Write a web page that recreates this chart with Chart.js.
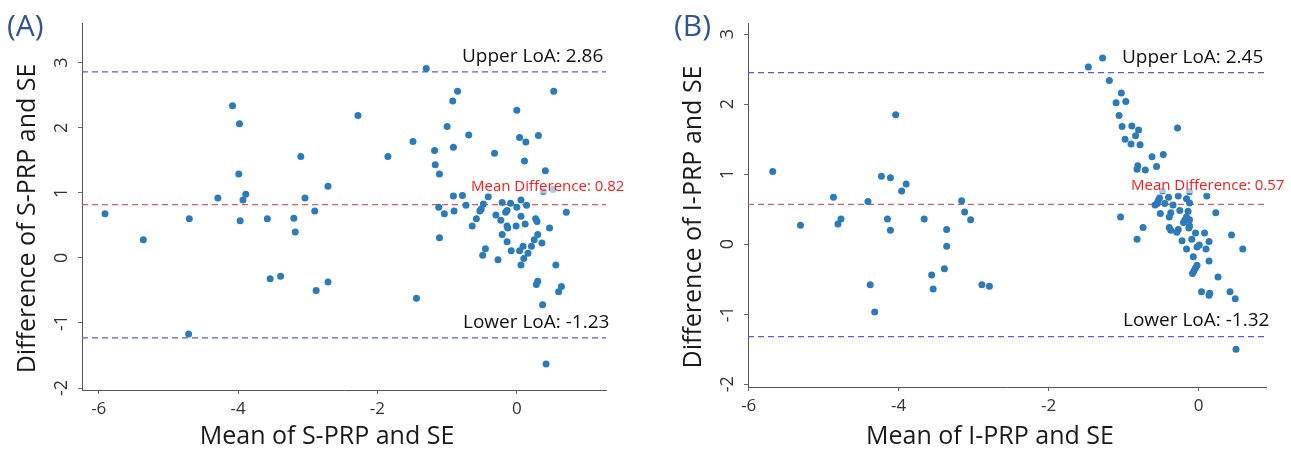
<!DOCTYPE html>
<html>
<head>
<meta charset="utf-8">
<script src="https://cdn.jsdelivr.net/npm/chart.js@4"></script>
<style>
    body { margin: 0; background: #fff; }
    #wrap { position: relative; width: 1291px; height: 456px; overflow: hidden; }
    .panel { position: absolute; top: 0; height: 456px; }
    .tag { position: absolute; font-family: "Open Sans", sans-serif; font-size: 30px; line-height: 30px; color: #2f5597; }
</style>
</head>
<body>
<div id="wrap">
    <div class="panel" style="left:0;width:645px"><canvas id="chartA" width="645" height="456"></canvas></div>
    <div class="panel" style="left:645px;width:646px"><canvas id="chartB" width="646" height="456"></canvas></div>
    <div class="tag" style="left:7px;top:10px">(A)</div>
    <div class="tag" style="left:674px;top:10px">(B)</div>
</div>
<script>
// panel A: S-PRP vs SE
const meanA = [-5.91, -5.36, -4.70, -4.71, -4.29, -4.08, -3.98, -3.99, -3.89, -3.93, -3.97, -3.58, -3.54, -3.39,
    -3.10, -3.04, -3.20, -3.18, -2.90, -2.88, -2.71, -2.71, -2.28, -1.85, -1.49, -1.44, -1.30, -1.18, -1.17, -1.11,
    -1.11, -1.12, -1.04, -1.00, -0.92, -0.85, -0.91, -0.91, -0.90, -0.78, -0.73, -0.69, -0.64, -0.58, -0.53, -0.51,
    -0.48, -0.41, -0.49, -0.45, -0.32, -0.30, -0.27, -0.23, -0.21, -0.21, -0.16, -0.14, -0.14, -0.13, -0.14, -0.09,
    -0.08, -0.01, 0.00, 0.00, 0.04, 0.04, 0.06, 0.06, 0.06, 0.09, 0.10, 0.12, 0.13, 0.11, 0.14, 0.16, 0.21, 0.25,
    0.27, 0.30, 0.29, 0.31, 0.28, 0.30, 0.36, 0.37, 0.41, 0.38, 0.42, 0.47, 0.53, 0.56, 0.60, 0.64, 0.71, 0.52];
const diffA = [0.68, 0.28, 0.60, -1.17, 0.92, 2.34, 2.06, 1.29, 0.98, 0.89, 0.57, 0.60, -0.32, -0.28,
    1.56, 0.92, 0.61, 0.40, 0.72, -0.50, 1.10, -0.37, 2.19, 1.56, 1.79, -0.62, 2.91, 1.65, 1.43, 1.29,
    0.31, 0.78, 0.68, 2.02, 2.41, 2.56, 1.70, 0.95, 0.72, 0.96, 0.81, 1.89, 0.49, 0.60, 0.72, 0.75,
    0.83, 0.94, 0.04, 0.14, 1.61, 0.66, -0.03, 0.58, 0.85, 0.36, 0.70, 0.73, 0.49, 0.46, 0.25, 0.84,
    0.11, 0.49, 2.27, 0.78, 1.85, 0.11, 0.89, 0.64, -0.11, 0.18, -0.01, 0.52, 1.78, 1.49, 0.81, 0.07, 0.18, 0.28,
    0.60, 0.36, 0.56, 1.88, -0.41, -0.36, 0.23, -0.72, 1.34, 1.02, -1.63, 0.46, 2.56, -0.11, -0.52, -0.44, 0.70, 1.05];
const loaA = [2.86, 0.82, -1.23];

// panel B: I-PRP vs SE
const meanB = [-5.68, -5.31, -4.87, -4.81, -4.77, -4.41, -4.38, -4.32, -4.23, -4.15, -4.11, -4.11, -4.04, -3.96,
    -3.90, -3.66, -3.56, -3.54, -3.39, -3.36, -3.36, -3.16, -3.12, -3.04, -2.89, -2.79, -1.47, -1.28, -1.19, -1.03,
    -1.10, -0.97, -1.06, -1.02, -0.89, -0.80, -0.84, -0.98, -0.90, -0.78, -0.28, -0.62, -0.47, -0.56, -0.81, -0.82,
    -0.71, -1.04, -0.74, -0.82, -0.48, -0.12, -0.27, 0.11, -0.40, -0.16, -0.52, -0.54, -0.55, -0.58, -0.45, -0.34,
    -0.12, -0.51, -0.37, -0.39, -0.25, -0.14, 0.23, -0.16, -0.18, -0.20, -0.12, -0.39, -0.37, -0.27, -0.12, -0.13,
    -0.29, -0.04, 0.08, -0.22, -0.09, 0.14, 0.01, -0.02, -0.16, 0.10, 0.44, 0.59, -0.07, 0.14, -0.02, -0.04,
    -0.06, -0.08, 0.26, 0.04, 0.14, 0.15, 0.42, 0.49, 0.50];
const diffB = [1.04, 0.27, 0.67, 0.29, 0.36, 0.61, -0.58, -0.97, 0.97, 0.36, 0.95, 0.20, 1.85, 0.76,
    0.86, 0.36, -0.44, -0.64, -0.35, 0.21, -0.03, 0.62, 0.46, 0.35, -0.58, -0.60, 2.53, 2.66, 2.34, 2.16,
    2.02, 2.04, 1.84, 1.68, 1.69, 1.63, 1.55, 1.50, 1.43, 1.42, 1.66, 1.25, 1.28, 1.11, 1.12, 1.07,
    1.06, 0.39, 0.24, 0.07, 0.76, 0.75, 0.69, 0.69, 0.67, 0.65, 0.66, 0.62, 0.58, 0.56, 0.58, 0.56,
    0.59, 0.44, 0.45, 0.39, 0.48, 0.47, 0.45, 0.39, 0.35, 0.31, 0.35, 0.24, 0.20, 0.21, 0.26, 0.23,
    0.17, 0.16, 0.16, 0.05, 0.07, 0.04, -0.01, -0.04, -0.07, -0.07, 0.13, -0.07, -0.18, -0.24, -0.30, -0.34,
    -0.38, -0.42, -0.47, -0.68, -0.73, -0.70, -0.68, -0.78, -1.50];
const loaB = [2.45, 0.57, -1.32];

const loaNames = ['Upper LoA', 'Mean Difference', 'Lower LoA'];
const xTicks = [-6, -4, -2, 0];
const yTicks = [-2, -1, 0, 1, 2, 3];

const FONT = '"Open Sans", sans-serif';

// draws the three LoA captions above their dashed lines
const loaLabels = {
    id: 'loaLabels',
    afterDatasetsDraw: function (chart, args, opts) {
        const ctx = chart.ctx;
        const area = chart.chartArea;
        opts.items.forEach(item => {
            const y = chart.scales.y.getPixelForValue(item.value) - item.dy;
            const x = area.right - item.dx;
            ctx.save();
            ctx.font = item.size + 'px ' + FONT;
            const w = ctx.measureText(item.text).width;
            ctx.fillStyle = item.bg;
            ctx.fillRect(x - 1, y - item.size * 0.8, w + 2, item.size * 0.8 + 3);
            ctx.fillStyle = item.color;
            ctx.textBaseline = 'alphabetic';
            ctx.fillText(item.text, x, y);
            ctx.restore();
        });
    }
};

// axis titles sit a little below / left of the plot centre in the original
const axisTitles = {
    id: 'axisTitles',
    afterDraw: function (chart, args, opts) {
        const ctx = chart.ctx;
        const area = chart.chartArea;
        ctx.save();
        ctx.font = '25px ' + FONT;
        ctx.fillStyle = '#1a1a1a';
        ctx.textAlign = 'center';
        ctx.textBaseline = 'middle';
        ctx.fillText(opts.x, (area.left + area.right) / 2 - 17, 437);
        ctx.translate(opts.yTitleX, (area.top + area.bottom) / 2 + 12);
        ctx.rotate(-Math.PI / 2);
        ctx.fillText(opts.y, 0, 0);
        ctx.restore();
    }
};

function hLine(value, color, xMin, xMax) {
    return {
        data: [{x: xMin, y: value}, {x: xMax, y: value}],
        showLine: true,
        borderColor: color,
        borderWidth: 1.3,
        borderDash: [6, 4],
        pointRadius: 0,
        fill: false
    };
}

function makeChart(id, mean, diff, loa, s) {
    const points = mean.map((m, i) => ({x: m, y: diff[i]}));
    return new Chart(document.getElementById(id), {
        type: 'scatter',
        data: {
            datasets: [
                {
                    data: points,
                    backgroundColor: '#2b7bba',
                    borderWidth: 0,
                    pointRadius: 3.5
                },
                hLine(loa[0], '#5a5ae6', s.xMin, s.xMax),
                hLine(loa[1], '#e8575a', s.xMin, s.xMax),
                hLine(loa[2], '#5a5ae6', s.xMin, s.xMax)
            ]
        },
        options: {
            responsive: false,
            animation: false,
            layout: {padding: {left: s.padLeft, right: s.padRight, top: 23, bottom: 0}},
            plugins: {
                legend: {display: false},
                tooltip: {enabled: false},
                axisTitles: {x: s.xTitle, y: s.yTitle, yTitleX: s.padLeft + 28},
                loaLabels: {
                    items: [
                        {value: loa[0], text: loaNames[0] + ': ' + loa[0].toFixed(2), size: 19, dx: 144, dy: 10, color: '#111', bg: 'rgba(255,255,255,0.8)'},
                        {value: loa[1], text: loaNames[1] + ': ' + loa[1].toFixed(2), size: 15, dx: 135, dy: 14, color: '#ff1a1a', bg: 'rgba(255,255,255,0.6)'},
                        {value: loa[2], text: loaNames[2] + ': ' + loa[2].toFixed(2), size: 19, dx: 143, dy: s.lowDy, color: '#111', bg: 'rgba(255,255,255,0.8)'}
                    ]
                }
            },
            scales: {
                x: {
                    type: 'linear',
                    min: s.xMin,
                    max: s.xMax,
                    afterBuildTicks: scale => { scale.ticks = xTicks.map(v => ({value: v})); },
                    afterFit: scale => { scale.height = s.xHeight; },
                    grid: {drawOnChartArea: false, color: '#666', tickLength: 4},
                    border: {display: true, color: '#555', width: 1},
                    ticks: {color: '#333', font: {family: FONT, size: 17}, padding: 5}
                },
                y: {
                    type: 'linear',
                    min: s.yMin,
                    max: s.yMax,
                    afterBuildTicks: scale => { scale.ticks = yTicks.map(v => ({value: v})); },
                    afterFit: scale => { scale.width = 82; },
                    grid: {drawOnChartArea: false, color: '#666', tickLength: 4},
                    border: {display: true, color: '#555', width: 1},
                    ticks: {color: '#333', font: {family: FONT, size: 18}, padding: 8, minRotation: 90, maxRotation: 90, crossAlign: 'center'}
                }
            }
        },
        plugins: [loaLabels, axisTitles]
    });
}

window.addEventListener('load', function () {
    makeChart('chartA', meanA, diffA, loaA, {
        xMin: -6.24, xMax: 1.28, yMin: -2.03, yMax: 3.61,
        padLeft: 0, padRight: 39, xHeight: 66, lowDy: 10,
        xTitle: 'Mean of S-PRP and SE', yTitle: 'Difference of S-PRP and SE'
    });
    makeChart('chartB', meanB, diffB, loaB, {
        xMin: -6.01, xMax: 0.9, yMin: -2.04, yMax: 3.16,
        padLeft: 21, padRight: 25, xHeight: 69, lowDy: 11,
        xTitle: 'Mean of I-PRP and SE', yTitle: 'Difference of I-PRP and SE'
    });
});
</script>
</body>
</html>
